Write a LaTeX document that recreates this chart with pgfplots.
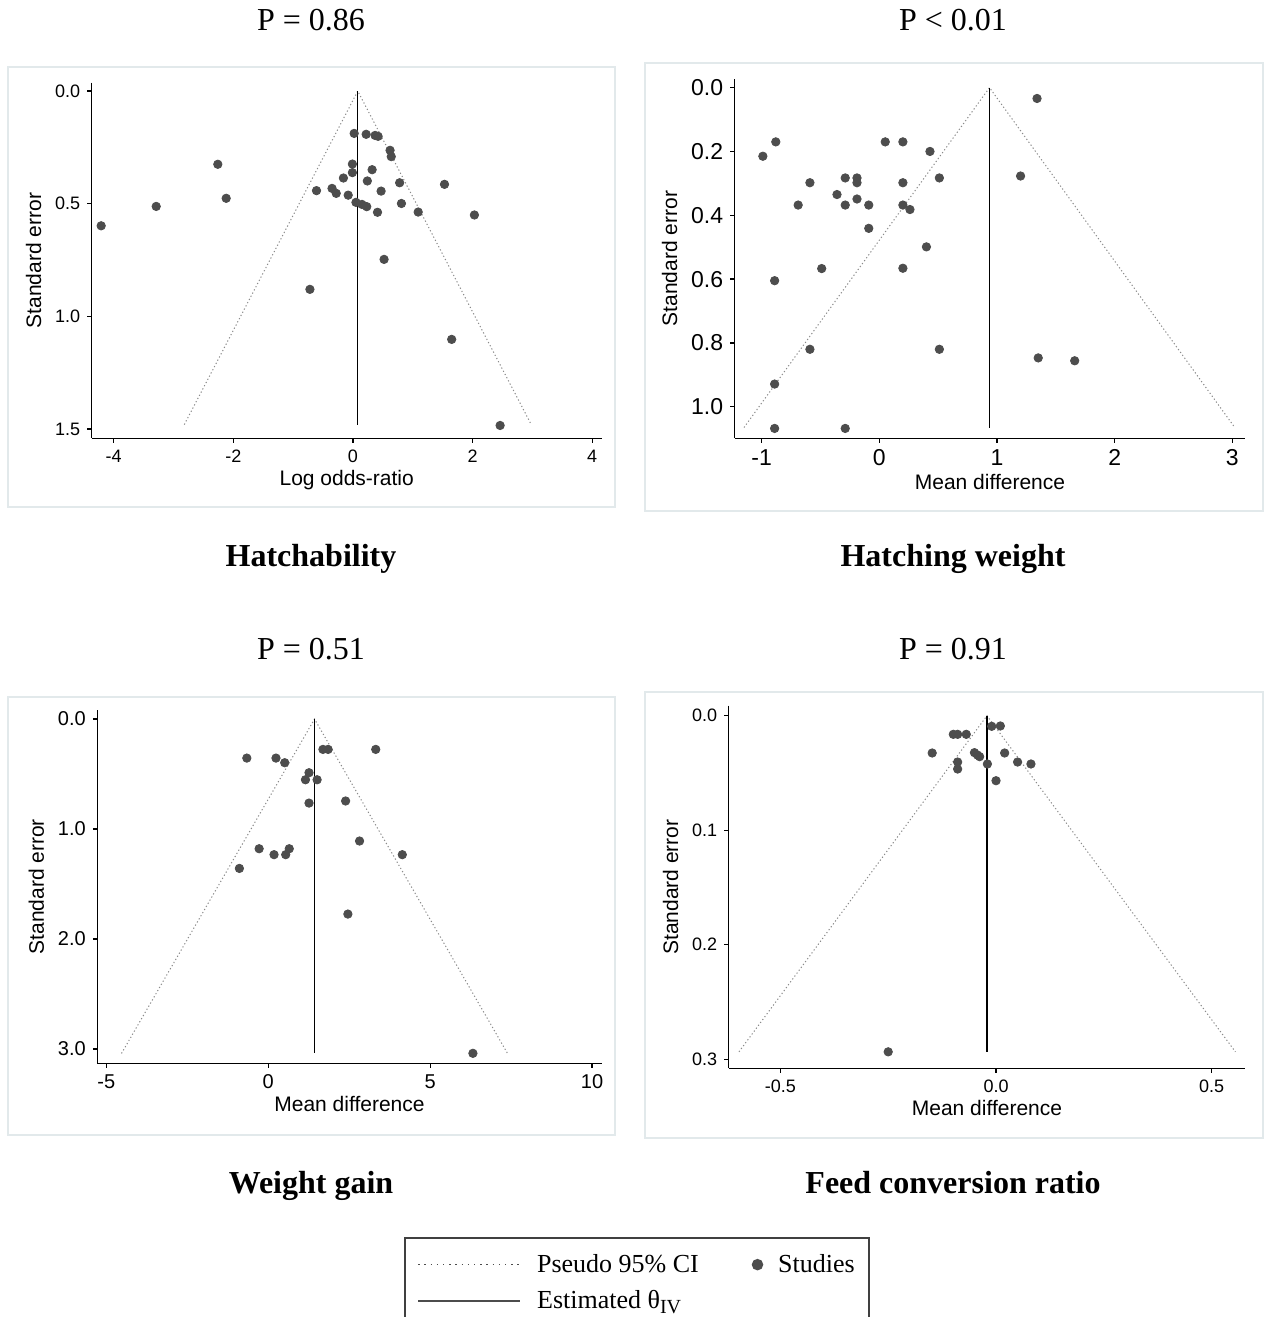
\documentclass[border=0pt]{standalone}
\usepackage{fontspec}
\setmainfont{Liberation Serif}
\setsansfont{Liberation Sans}
\usepackage{pgfplots}
\pgfplotsset{compat=1.18}

\definecolor{dot}{HTML}{4D4D4D}
\definecolor{frame}{HTML}{E2E9EB}
\definecolor{ci}{HTML}{8A8A8A}

\pgfplotsset{
  funnel/.style={
    scale only axis, anchor=center, clip=false,
    axis x line*=bottom, axis y line*=left,
    axis line style={-, line width=0.6pt},
    y dir=reverse, scaled ticks=false,
    tick align=outside, major tick length=2.2pt,
    tick style={black, line width=0.6pt},
    /pgf/number format/assume math mode=true,
    label style={font=\sffamily\fontsize{10.5}{12}\selectfont},
    xlabel style={yshift=3pt},
    ylabel={Standard error},
    yticklabel style={/pgf/number format/.cd, fixed, fixed zerofill, precision=1},
  },
  studies/.style={only marks, mark=*, mark size=2.1pt, color=dot},
  cilines/.style={ci, line width=0.5pt, dash pattern=on 0.6pt off 1.2pt},
  est/.style={black, line width=0.7pt},
  legline/.style={legend image code/.code={\draw[##1] (0pt,0pt) -- (51pt,0pt);}},
  legmark/.style={legend image code/.code={\draw[##1] plot coordinates {(0pt,0pt)};}},
}

\newcommand{\ttl}[1]{\fontsize{16}{19}\selectfont #1}

\begin{document}
\begin{tikzpicture}
\clip (0,0) rectangle (634pt,-658.5pt);
\fill[white] (0,0) rectangle (634pt,-658.5pt);

% panel frames and titles (pixel scope)
\begin{scope}[x=0.5pt, y=-0.5pt]
  \draw[frame, line width=0.6pt] (8,67) rectangle (615,507);
  \draw[frame, line width=0.6pt] (645,63) rectangle (1263,511);
  \draw[frame, line width=0.6pt] (8,697) rectangle (615,1135);
  \draw[frame, line width=0.6pt] (645,692) rectangle (1263,1138);
  \node[anchor=base] at (311,31) {\ttl{P = 0.86}};
  \node[anchor=base] at (953,31) {\ttl{P < 0.01}};
  \node[anchor=base] at (311,566) {\ttl{\bfseries Hatchability}};
  \node[anchor=base] at (953,566) {\ttl{\bfseries Hatching weight}};
  \node[anchor=base] at (311,659) {\ttl{P = 0.51}};
  \node[anchor=base] at (953,659) {\ttl{P = 0.91}};
  \node[anchor=base] at (311,1193) {\ttl{\bfseries Weight gain}};
  \node[anchor=base] at (953,1193) {\ttl{\bfseries Feed conversion ratio}};
\end{scope}

% Hatchability
\begin{axis}[funnel,
  at={(173.35pt,-130.25pt)}, width=255.1pt, height=177.8pt,
  xmin=-4.37, xmax=4.16, ymin=-0.037, ymax=1.541,
  xtick={-4,-2,0,2,4}, ytick={0,0.5,1,1.5},
  tick label style={font=\sffamily\fontsize{9}{11}\selectfont},
  xlabel={Log odds-ratio}]
\addplot[cilines] coordinates {(-2.82,1.48)(0.08,0)(2.98,1.48)};
\addplot[est] coordinates {(0.08,0)(0.08,1.48)};
\addplot[studies] coordinates {
(0.02,0.188)(0.22,0.192)(0.37,0.197)(0.42,0.201)(0.62,0.263)(0.64,0.291)
(-2.26,0.325)(-0.01,0.324)(0.32,0.349)(-0.01,0.362)(-0.16,0.386)(0.24,0.399)
(0.78,0.407)(1.53,0.414)(-0.35,0.432)(-0.61,0.442)(-0.28,0.454)(0.47,0.444)
(-0.08,0.462)(-2.12,0.476)(0.05,0.494)(0.15,0.503)(0.23,0.513)(0.81,0.499)
(-3.29,0.512)(0.41,0.538)(1.09,0.537)(2.03,0.550)(-4.21,0.598)(0.52,0.747)
(-0.72,0.880)(1.65,1.102)(2.46,1.484)};
\end{axis}

% Hatching weight
\begin{axis}[funnel,
  at={(494.98pt,-129.33pt)}, width=255.35pt, height=179.65pt,
  xmin=-1.23, xmax=3.11, ymin=-0.027, ymax=1.099,
  xtick={-1,0,1,2,3}, ytick={0,0.2,0.4,0.6,0.8,1.0},
  tick label style={font=\sffamily\fontsize{11.5}{13}\selectfont},
  xlabel={Mean difference}]
\addplot[cilines] coordinates {(-1.15,1.065)(0.936,0)(3.02,1.065)};
\addplot[est] coordinates {(0.936,0)(0.936,1.068)};
\addplot[studies] coordinates {
(1.34,0.034)(-0.88,0.170)(-0.99,0.215)(0.05,0.170)(0.20,0.170)(0.43,0.200)
(1.20,0.277)(-0.29,0.283)(-0.19,0.283)(0.51,0.283)(-0.59,0.298)(-0.19,0.298)
(0.20,0.298)(-0.36,0.335)(-0.19,0.349)(-0.69,0.368)(-0.29,0.368)(-0.09,0.368)
(0.20,0.368)(0.26,0.382)(-0.09,0.441)(0.40,0.499)(-0.49,0.567)(0.20,0.566)
(-0.89,0.605)(-0.59,0.820)(0.51,0.820)(1.35,0.847)(1.66,0.856)(-0.89,0.929)
(-0.89,1.068)(-0.29,1.068)};
\end{axis}

% Weight gain
\begin{axis}[funnel,
  at={(174.75pt,-443.33pt)}, width=252.3pt, height=176.65pt,
  xmin=-5.28, xmax=10.30, ymin=-0.082, ymax=3.13,
  xtick={-5,0,5,10}, ytick={0,1,2,3},
  tick label style={font=\sffamily\fontsize{10}{12}\selectfont},
  xlabel={Mean difference}]
\addplot[cilines] coordinates {(-4.53,3.04)(1.43,0)(7.39,3.04)};
\addplot[est] coordinates {(1.43,0)(1.43,3.04)};
\addplot[studies] coordinates {
(1.69,0.276)(1.85,0.276)(3.32,0.276)(-0.66,0.355)(0.24,0.355)(0.51,0.397)
(1.26,0.488)(1.15,0.552)(1.51,0.552)(2.39,0.745)(1.26,0.764)(2.82,1.109)
(-0.28,1.179)(0.65,1.179)(0.18,1.233)(0.54,1.233)(4.14,1.233)(-0.89,1.358)
(2.46,1.773)(6.32,3.039)};
\end{axis}

% Feed conversion ratio
\begin{axis}[funnel,
  at={(493.48pt,-443.5pt)}, width=258.35pt, height=181.3pt,
  xmin=-0.620, xmax=0.578, ymin=-0.0087, ymax=0.308,
  xtick={-0.5,0,0.5}, ytick={0,0.1,0.2,0.3},
  xticklabel style={/pgf/number format/.cd, fixed, fixed zerofill, precision=1},
  tick label style={font=\sffamily\fontsize{9}{11}\selectfont},
  xlabel={Mean difference}]
\addplot[cilines] coordinates {(-0.596,0.2936)(-0.021,0)(0.555,0.2936)};
\addplot[est] coordinates {(-0.021,0)(-0.021,0.294)};
\addplot[studies] coordinates {
(-0.010,0.0093)(0.010,0.0090)(-0.099,0.0163)(-0.089,0.0163)(-0.069,0.0163)
(-0.148,0.0326)(-0.050,0.0323)(-0.043,0.0344)(-0.038,0.0358)(0.020,0.0326)
(-0.089,0.0405)(0.050,0.0405)(-0.020,0.0422)(0.081,0.0422)(-0.089,0.0466)
(0.000,0.0568)(-0.250,0.2936)};
\end{axis}

% shared legend
\begin{axis}[hide axis, scale only axis, width=230pt, height=10pt,
  at={(318.5pt,-618.5pt)}, anchor=north,
  xmin=0, xmax=1, ymin=0, ymax=1,
  legend columns=2, legend cell align=left,
  legend style={at={(0.5,1)}, anchor=north, draw=black!75, line width=1.1pt,
    fill=white, inner xsep=6pt, inner ysep=7pt,
    font=\fontsize{13}{15}\selectfont, column sep=7pt, row sep=5.5pt,
    /tikz/every even column/.append style={column sep=26pt},
    nodes={inner sep=1pt}}]
\addlegendimage{black!70, line width=0.6pt, dash pattern=on 0.7pt off 2.4pt, legline}
\addlegendentry{Pseudo 95\% CI}
\addlegendimage{only marks, mark=*, mark size=2.3pt, color=dot, legmark}
\addlegendentry{Studies}
\addlegendimage{black!70, line width=0.9pt, legline}
\addlegendentry{Estimated θ\raisebox{-0.45ex}{\fontsize{10}{12}\selectfont IV}}
\end{axis}
\end{tikzpicture}
\end{document}
